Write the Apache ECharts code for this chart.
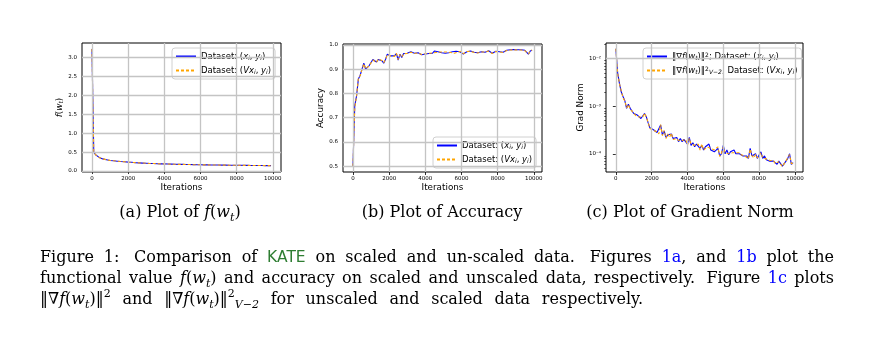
<!DOCTYPE html>
<html>
<head>
<meta charset="utf-8">
<script src="https://cdn.jsdelivr.net/npm/echarts@6/dist/echarts.min.js"></script>
<style>
  html, body { margin: 0; padding: 0; background: #fff; }
  #main { width: 871px; height: 342px; }
</style>
</head>
<body>
<div id="main"></div>
<script>
// iterations (logged every 100 steps)
const iterations = [
  0, 100, 200, 300, 400, 500, 600, 700, 800, 900,
  1000, 1100, 1200, 1300, 1400, 1500, 1600, 1700, 1800, 1900,
  2000, 2100, 2200, 2300, 2400, 2500, 2600, 2700, 2800, 2900,
  3000, 3100, 3200, 3300, 3400, 3500, 3600, 3700, 3800, 3900,
  4000, 4100, 4200, 4300, 4400, 4500, 4600, 4700, 4800, 4900,
  5000, 5100, 5200, 5300, 5400, 5500, 5600, 5700, 5800, 5900,
  6000, 6100, 6200, 6300, 6400, 6500, 6600, 6700, 6800, 6900,
  7000, 7100, 7200, 7300, 7400, 7500, 7600, 7700, 7800, 7900,
  8000, 8100, 8200, 8300, 8400, 8500, 8600, 8700, 8800, 8900,
  9000, 9100, 9200, 9300, 9400, 9500, 9600, 9700, 9800, 9900
];

// (a) f(w_t)
const lossUnscaled = [
  3.22, 0.50, 0.43, 0.39, 0.36, 0.34, 0.32, 0.31, 0.30, 0.29,
  0.28, 0.275, 0.27, 0.265, 0.26, 0.255, 0.25, 0.245, 0.245, 0.24,
  0.235, 0.23, 0.23, 0.225, 0.22, 0.22, 0.215, 0.215, 0.21, 0.21,
  0.205, 0.205, 0.20, 0.20, 0.198, 0.196, 0.194, 0.192, 0.19, 0.19,
  0.188, 0.186, 0.185, 0.183, 0.182, 0.18, 0.179, 0.178, 0.177, 0.176,
  0.175, 0.174, 0.173, 0.172, 0.171, 0.17, 0.169, 0.168, 0.167, 0.167,
  0.166, 0.165, 0.164, 0.163, 0.163, 0.162, 0.161, 0.16, 0.16, 0.159,
  0.158, 0.158, 0.157, 0.156, 0.156, 0.155, 0.154, 0.154, 0.153, 0.153,
  0.152, 0.151, 0.151, 0.15, 0.15, 0.149, 0.149, 0.148, 0.148, 0.147,
  0.147, 0.146, 0.146, 0.145, 0.145, 0.144, 0.144, 0.143, 0.143, 0.142
];
const lossScaled = [
  3.22, 0.50, 0.43, 0.385, 0.36, 0.338, 0.322, 0.31, 0.298, 0.29,
  0.281, 0.274, 0.27, 0.266, 0.259, 0.255, 0.251, 0.246, 0.244, 0.24,
  0.236, 0.231, 0.229, 0.225, 0.221, 0.219, 0.216, 0.214, 0.211, 0.209,
  0.206, 0.204, 0.201, 0.199, 0.198, 0.195, 0.194, 0.193, 0.19, 0.189,
  0.188, 0.187, 0.184, 0.183, 0.181, 0.18, 0.18, 0.177, 0.177, 0.175,
  0.175, 0.173, 0.173, 0.171, 0.171, 0.17, 0.168, 0.168, 0.166, 0.167,
  0.165, 0.165, 0.163, 0.163, 0.162, 0.162, 0.16, 0.16, 0.159, 0.159,
  0.158, 0.157, 0.157, 0.155, 0.156, 0.154, 0.154, 0.153, 0.153, 0.152,
  0.152, 0.15, 0.151, 0.149, 0.15, 0.148, 0.149, 0.147, 0.148, 0.146,
  0.147, 0.145, 0.146, 0.144, 0.145, 0.143, 0.144, 0.142, 0.143, 0.141
];

// (b) accuracy
const accUnscaled = [
  0.50, 0.75, 0.79, 0.86, 0.875, 0.90, 0.925, 0.90, 0.905, 0.915,
  0.915, 0.94, 0.935, 0.93, 0.94, 0.945, 0.935, 0.925, 0.94, 0.962,
  0.955, 0.955, 0.96, 0.955, 0.965, 0.938, 0.962, 0.948, 0.965, 0.958,
  0.966, 0.97, 0.972, 0.968, 0.966, 0.97, 0.968, 0.965, 0.96, 0.966,
  0.963, 0.968, 0.965, 0.97, 0.966, 0.975, 0.968, 0.972, 0.97, 0.968,
  0.97, 0.966, 0.972, 0.968, 0.97, 0.972, 0.967, 0.974, 0.97, 0.972,
  0.975, 0.963, 0.97, 0.972, 0.968, 0.975, 0.972, 0.97, 0.974, 0.968,
  0.966, 0.972, 0.975, 0.97, 0.968, 0.976, 0.97, 0.966, 0.972, 0.974,
  0.975, 0.972, 0.966, 0.97, 0.975, 0.978, 0.976, 0.98, 0.978, 0.981,
  0.978, 0.98, 0.977, 0.98, 0.976, 0.978, 0.972, 0.962, 0.975, 0.978
];
const accScaled = [
  0.50, 0.74, 0.79, 0.862, 0.873, 0.898, 0.922, 0.902, 0.907, 0.914,
  0.917, 0.938, 0.936, 0.928, 0.942, 0.944, 0.936, 0.927, 0.941, 0.96,
  0.956, 0.954, 0.961, 0.953, 0.966, 0.94, 0.96, 0.95, 0.964, 0.959,
  0.965, 0.971, 0.97, 0.969, 0.965, 0.971, 0.967, 0.966, 0.961, 0.965,
  0.964, 0.967, 0.966, 0.969, 0.967, 0.974, 0.969, 0.971, 0.971, 0.967,
  0.971, 0.967, 0.971, 0.969, 0.969, 0.973, 0.966, 0.973, 0.971, 0.971,
  0.974, 0.964, 0.969, 0.973, 0.967, 0.974, 0.973, 0.969, 0.975, 0.967,
  0.967, 0.971, 0.974, 0.971, 0.967, 0.975, 0.971, 0.965, 0.973, 0.973,
  0.976, 0.971, 0.967, 0.969, 0.976, 0.977, 0.977, 0.979, 0.979, 0.98,
  0.979, 0.979, 0.978, 0.979, 0.977, 0.977, 0.973, 0.963, 0.974, 0.979
];

// (c) gradient norm
const gradUnscaled = [
  0.016, 0.005, 0.003, 0.002, 0.0016, 0.0013, 0.0009, 0.0011, 0.0009, 0.00085,
  0.0007, 0.00065, 0.00065, 0.0006, 0.00055, 0.0006, 0.0007, 0.0006, 0.00045, 0.00035,
  0.00035, 0.00032, 0.0003, 0.00028, 0.00027, 0.0004, 0.00025, 0.0003, 0.00022, 0.00025,
  0.00023, 0.00026, 0.00021, 0.0002, 0.00022, 0.00018, 0.00021, 0.00018, 0.0002, 0.00019,
  0.00016, 0.00022, 0.00015, 0.00017, 0.00014, 0.00016, 0.00015, 0.00013, 0.00015, 0.00012,
  0.00014, 0.00013, 0.00016, 0.00012, 0.00013, 0.00011, 0.00012, 0.00013, 0.00009, 0.0001,
  0.00015, 0.0001, 0.00012, 0.000095, 0.00011, 0.0001, 0.00012, 0.0001, 0.00011, 0.0001,
  0.0001, 0.00009, 0.000095, 0.00009, 0.00008, 0.00013, 0.00009, 0.000085, 0.0001, 0.00008,
  0.000085, 0.00011, 0.00008, 0.00009, 0.000075, 0.00008, 0.00007, 0.000075, 0.00007, 0.000065,
  0.00006, 0.00007, 0.000065, 0.000055, 0.00006, 0.00007, 0.00008, 0.0001, 0.00006, 0.000065
];
const gradScaled = [
  0.016, 0.0049, 0.003, 0.0021, 0.0015, 0.0013, 0.00092, 0.00108, 0.00088, 0.00086,
  0.00071, 0.00064, 0.00066, 0.00059, 0.00056, 0.00059, 0.00071, 0.00059, 0.00046, 0.00034,
  0.00036, 0.00031, 0.0003, 0.00029, 0.00026, 0.00041, 0.00024, 0.00031, 0.00021, 0.00026,
  0.00022, 0.00027, 0.0002, 0.00021, 0.00021, 0.00019, 0.0002, 0.00019, 0.00019, 0.0002,
  0.00015, 0.00021, 0.00016, 0.00016, 0.00015, 0.00015, 0.00016, 0.00012, 0.00016, 0.00012,
  0.00013, 0.00014, 0.00015, 0.00013, 0.00012, 0.00012, 0.00011, 0.00014, 0.000088, 0.000105,
  0.00014, 0.000105, 0.00011, 0.0001, 0.000105, 0.000105, 0.000115, 0.000105, 0.000105, 0.000105,
  0.000095, 0.000092, 0.00009, 0.000092, 0.000078, 0.000125, 0.000092, 0.000082, 0.000098, 0.000082,
  0.000082, 0.000105, 0.000082, 0.000088, 0.000078, 0.000078, 0.000072, 0.000072, 0.000072, 0.000062,
  0.000062, 0.000068, 0.000067, 0.000054, 0.000062, 0.000068, 0.000082, 0.000096, 0.000062, 0.000063
];

// tick values
const iterTicks = [0, 2000, 4000, 6000, 8000, 10000];
const lossTicks = [0.0, 0.5, 1.0, 1.5, 2.0, 2.5, 3.0];
const accTicks = [0.5, 0.6, 0.7, 0.8, 0.9, 1.0];
const gradTicks = [1e-4, 1e-3, 1e-2];
const gradMinorTicks = [
  5e-5, 6e-5, 7e-5, 8e-5, 9e-5,
  2e-4, 3e-4, 4e-4, 5e-4, 6e-4, 7e-4, 8e-4, 9e-4,
  2e-3, 3e-3, 4e-3, 5e-3, 6e-3, 7e-3, 8e-3, 9e-3, 2e-2
];

const BLUE = '#0000ff';
const ORANGE = '#ffa500';
const GRIDC = '#c4c4c4';
const TICKFONT = { fontSize: 5.5, color: '#000', fontFamily: 'DejaVu Sans' };
const SERIF = 'DejaVu Serif';

function pairs(ys) {
  return iterations.map((x, i) => [x, ys[i]]);
}

function xAxisFor(gi) {
  return {
    type: 'value', gridIndex: gi, min: -550, max: 10450,
    name: 'Iterations', nameLocation: 'middle', nameGap: 10,
    nameTextStyle: { fontSize: 8.8, color: '#000', fontFamily: 'DejaVu Sans' },
    axisLine: { show: false },
    axisTick: { show: true, length: 3, customValues: iterTicks, lineStyle: { color: '#000', width: 0.8 } },
    axisLabel: Object.assign({ customValues: iterTicks, margin: 4, formatter: v => String(v) }, TICKFONT),
    splitLine: { show: false }
  };
}

// grid lines drawn at the tick values through the axes' own scales
function gridLines(xi, yi, yVals) {
  const data = iterTicks.map(v => ({ xAxis: v })).concat(yVals.map(v => ({ yAxis: v })));
  return {
    type: 'line', xAxisIndex: xi, yAxisIndex: yi, data: [], z: 1, silent: true,
    markLine: {
      silent: true, symbol: 'none', animation: false,
      label: { show: false },
      lineStyle: { color: GRIDC, width: 1.3, type: 'solid' },
      data: data
    }
  };
}

function lineSeries(name, xi, yi, ys, dashed) {
  return {
    name: name, type: 'line', xAxisIndex: xi, yAxisIndex: yi,
    data: pairs(ys), symbol: 'none', z: dashed ? 4 : 3, animation: false,
    lineStyle: dashed ? { color: ORANGE, width: 1.1, type: [3, 2] } : { color: BLUE, width: 1.1 },
    itemStyle: { color: dashed ? ORANGE : BLUE }
  };
}

const legendRich = {
  i: { fontStyle: 'italic', fontSize: 8.5, fontFamily: 'DejaVu Sans' },
  s: { fontStyle: 'italic', fontSize: 6, verticalAlign: 'bottom', fontFamily: 'DejaVu Sans' },
  p: { fontSize: 6, verticalAlign: 'top', fontFamily: 'DejaVu Sans' }
};
const legendLabels = {
  aU: 'Dataset: ({i|x}{s|i}, {i|y}{s|i})',
  aV: 'Dataset: ({i|Vx}{s|i}, {i|y}{s|i})',
  bU: 'Dataset: ({i|x}{s|i}, {i|y}{s|i})',
  bV: 'Dataset: ({i|Vx}{s|i}, {i|y}{s|i})',
  cU: '‖∇{i|f}({i|w}{s|t})‖{p|2}; Dataset: ({i|x}{s|i}, {i|y}{s|i})',
  cV: '‖∇{i|f}({i|w}{s|t})‖{p|2}{s|V−2}; Dataset: ({i|Vx}{s|i}, {i|y}{s|i})'
};

function legendFor(names, left, top) {
  return {
    data: names, left: left, top: top, orient: 'vertical',
    padding: [4, 4, 4, 3], itemGap: 5, itemWidth: 20, itemHeight: 8,
    borderColor: '#d0d0d0', borderWidth: 1, borderRadius: 3, backgroundColor: '#fff',
    selectedMode: false,
    itemStyle: { opacity: 0 },
    textStyle: { fontSize: 8.5, color: '#000', fontFamily: 'DejaVu Sans', rich: legendRich },
    formatter: n => legendLabels[n]
  };
}

const capRich = {
  n: { fontSize: 16, fontFamily: SERIF, fill: '#000' },
  i: { fontStyle: 'italic', fontSize: 16, fontFamily: SERIF, fill: '#000' },
  s: { fontStyle: 'italic', fontSize: 11, fontFamily: SERIF, fill: '#000', verticalAlign: 'bottom', lineHeight: 22 },
  p: { fontSize: 11, fontFamily: SERIF, fill: '#000', verticalAlign: 'top', lineHeight: 22 },
  k: { fontSize: 15.5, fontFamily: 'DejaVu Sans', fill: '#2e7d32' },
  l: { fontSize: 16, fontFamily: SERIF, fill: '#0000ff' }
};

function capText(text, x, y, align) {
  return {
    type: 'text', x: x, y: y, silent: true,
    style: {
      text: text, rich: capRich, fill: '#000',
      font: '16px "' + SERIF + '"',
      align: align, textAlign: align,
      verticalAlign: 'middle', textVerticalAlign: 'middle'
    }
  };
}

// measure a rich string so caption lines can be justified like the LaTeX source
const measureCtx = document.createElement('canvas').getContext('2d');
function richWidth(str) {
  const re = /\{(\w+)\|([^}]*)\}|([^{]+)/g;
  let m, w = 0;
  while ((m = re.exec(str))) {
    const st = capRich[m[1] || 'n'];
    measureCtx.font = (st.fontStyle === 'italic' ? 'italic ' : '') + st.fontSize + 'px "' + st.fontFamily + '"';
    w += measureCtx.measureText(m[1] ? m[2] : m[3]).width;
  }
  return w;
}

const fw = '{i|f}({i|w}{s|t})';
// caption lines: words, y, right edge; a '*' marks wider sentence spacing
const captionLines = [
  { y: 258, right: 834, words: ['Figure', '1:*', 'Comparison', 'of', '{k|KATE}', 'on', 'scaled', 'and', 'un-scaled', 'data.*',
    'Figures', '{l|1a},', 'and', '{l|1b}', 'plot', 'the'] },
  { y: 279, right: 834, words: ['functional', 'value', fw, 'and', 'accuracy', 'on', 'scaled', 'and', 'unscaled', 'data,',
    'respectively.*', 'Figure', '{l|1c}', 'plots'] },
  { y: 300, right: 643, words: ['‖∇' + fw + '‖{p|2}', 'and', '‖∇' + fw + '‖{p|2}{s|V−2}', 'for', 'unscaled', 'and',
    'scaled', 'data', 'respectively.'] }
];
const CAP_LEFT = 40;

function layoutCaption() {
  const out = [];
  captionLines.forEach(line => {
    const words = line.words.map(w => w.replace('*', ''));
    const weights = line.words.slice(0, -1).map(w => (w.endsWith('*') ? 1.5 : 1));
    const widths = words.map(richWidth);
    const total = widths.reduce((a, b) => a + b, 0);
    const wsum = weights.reduce((a, b) => a + b, 0);
    const unit = (line.right - CAP_LEFT - total) / wsum;
    let x = CAP_LEFT;
    words.forEach((w, i) => {
      out.push(capText(w, x, line.y, 'left'));
      x += widths[i] + (i < weights.length ? unit * weights[i] : 0);
    });
  });
  return out;
}

const chart = echarts.init(document.getElementById('main'), null, { renderer: 'canvas' });

chart.setOption({
  animation: false,
  backgroundColor: '#fff',
  grid: [
    { left: 82, top: 43, width: 199, height: 129, show: true, borderColor: '#000', borderWidth: 1, backgroundColor: 'transparent', z: 5 },
    { left: 343, top: 44, width: 199, height: 128, show: true, borderColor: '#000', borderWidth: 1, backgroundColor: 'transparent', z: 5 },
    { left: 606, top: 43, width: 197, height: 129, show: true, borderColor: '#000', borderWidth: 1, backgroundColor: 'transparent', z: 5 }
  ],
  xAxis: [xAxisFor(0), xAxisFor(1), xAxisFor(2)],
  yAxis: [
    {
      type: 'value', gridIndex: 0, min: -0.025, max: 3.375,
      name: '{i|f}({i|w}{s|t})', nameLocation: 'middle', nameGap: 9,
      nameTextStyle: { fontSize: 8.8, color: '#000', fontFamily: 'DejaVu Sans',
        rich: { i: { fontStyle: 'italic', fontSize: 8.8 }, s: { fontStyle: 'italic', fontSize: 6, verticalAlign: 'bottom' } } },
      axisLine: { show: false },
      axisTick: { show: true, length: 3, customValues: lossTicks, lineStyle: { color: '#000', width: 0.8 } },
      axisLabel: Object.assign({ customValues: lossTicks, margin: 5, formatter: v => v.toFixed(1) }, TICKFONT),
      splitLine: { show: false }
    },
    {
      type: 'value', gridIndex: 1, min: 0.476, max: 1.004,
      name: 'Accuracy', nameLocation: 'middle', nameGap: 14,
      nameTextStyle: { fontSize: 8.8, color: '#000', fontFamily: 'DejaVu Sans' },
      axisLine: { show: false },
      axisTick: { show: true, length: 3, customValues: accTicks, lineStyle: { color: '#000', width: 0.8 } },
      axisLabel: Object.assign({ customValues: accTicks, margin: 5, formatter: v => v.toFixed(1) }, TICKFONT),
      splitLine: { show: false }
    },
    {
      type: 'log', logBase: 10, gridIndex: 2, min: 4.14e-5, max: 0.0212,
      name: 'Grad Norm', nameLocation: 'middle', nameGap: 20,
      nameTextStyle: { fontSize: 8.8, color: '#000', fontFamily: 'DejaVu Sans' },
      axisLine: { show: false },
      axisTick: { show: true, length: 3, customValues: gradTicks, lineStyle: { color: '#000', width: 0.8 } },
      axisLabel: Object.assign({
        customValues: gradTicks, margin: 5,
        formatter: v => '10' + ({ '-4': '⁻⁴', '-3': '⁻³', '-2': '⁻²' })[String(Math.round(Math.log10(v)))]
      }, TICKFONT),
      splitLine: { show: false }
    },
    {
      type: 'log', logBase: 10, gridIndex: 2, min: 4.14e-5, max: 0.0212, position: 'left',
      axisLine: { show: false },
      axisTick: { show: true, length: 1.8, customValues: gradMinorTicks, lineStyle: { color: '#000', width: 0.6 } },
      axisLabel: { show: false },
      splitLine: { show: false }
    }
  ],
  legend: [
    legendFor(['aU', 'aV'], 172, 48),
    legendFor(['bU', 'bV'], 433, 137),
    legendFor(['cU', 'cV'], 643, 48)
  ],
  series: [
    gridLines(0, 0, lossTicks),
    gridLines(1, 1, accTicks),
    gridLines(2, 2, gradTicks),
    lineSeries('aU', 0, 0, lossUnscaled, false),
    lineSeries('aV', 0, 0, lossScaled, true),
    lineSeries('bU', 1, 1, accUnscaled, false),
    lineSeries('bV', 1, 1, accScaled, true),
    lineSeries('cU', 2, 2, gradUnscaled, false),
    lineSeries('cV', 2, 2, gradScaled, true)
  ],
  graphic: [
    capText('(a) Plot of ' + fw, 180, 213, 'center'),
    capText('(b) Plot of Accuracy', 442, 213, 'center'),
    capText('(c) Plot of Gradient Norm', 690, 213, 'center')
  ].concat(layoutCaption())
});
</script>
</body>
</html>
